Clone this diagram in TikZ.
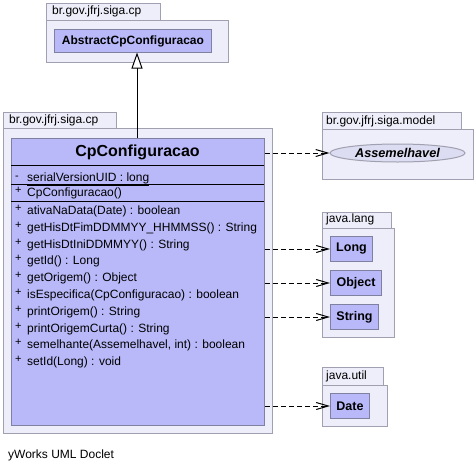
\documentclass[tikz,border=0pt]{standalone}
\usepackage{fontspec}
\setmainfont{Liberation Sans}
\usetikzlibrary{arrows.meta,shapes.geometric}
\definecolor{pkgfill}{RGB}{238,238,250}
\definecolor{pkgline}{RGB}{160,160,176}
\definecolor{clsfill}{RGB}{185,185,250}
\definecolor{clsline}{RGB}{128,128,160}
\definecolor{ellfill}{RGB}{220,220,242}
\tikzset{
  pkgbox/.style={draw=pkgline, fill=pkgfill, line width=1pt, inner sep=0pt, anchor=north west},
  clsbox/.style={draw=clsline, fill=clsfill, line width=1pt, inner sep=0pt, anchor=north west},
  pkgtext/.style={inner sep=0pt, anchor=west, font=\fontsize{12pt}{14pt}\selectfont},
  memtext/.style={inner sep=0pt, anchor=base west, font=\fontsize{12pt}{14pt}\selectfont},
  vis/.style={inner sep=0pt, anchor=base west, font=\fontsize{11pt}{14pt}\selectfont},
  clsname/.style={font=\fontsize{12.5pt}{14pt}\selectfont\bfseries},
  dep/.style={dashed, dash pattern=on 5pt off 3pt, line width=1pt, -{Straight Barb[length=12pt,width=7pt,line width=1pt]}},
  gen/.style={line width=1pt, -{Triangle[open,length=16pt,width=11pt,fill=white,line width=1pt]}},
}
\begin{document}
\begin{tikzpicture}[x=1pt,y=-1pt]
\useasboundingbox (0,0) rectangle (476,471);
% top package
\node[pkgbox, minimum width=114pt, minimum height=17pt] (tabA) at (46,3) {};
\node[pkgbox, minimum width=182pt, minimum height=42pt] (pkgA) at (46,20) {};
\node[pkgtext] (tabAt) at (52,11.5) {br.gov.jfrj.siga.cp};
\node[clsbox, minimum width=157pt, minimum height=23pt, font=\fontsize{12pt}{14pt}\selectfont\bfseries] (abs) at (54,29) {AbstractCpConfiguracao};
% main package
\node[pkgbox, minimum width=113pt, minimum height=16pt] (tabB) at (3,112) {};
\node[pkgbox, minimum width=269pt, minimum height=305pt] (pkgB) at (3,128) {};
\node[pkgtext] (tabBt) at (9,120) {br.gov.jfrj.siga.cp};
\node[clsbox, minimum width=253pt, minimum height=287pt] (cp) at (11,138) {};
\node[inner sep=0pt, font=\fontsize{16pt}{18pt}\selectfont\bfseries] (cpname) at (137.5,152) {CpConfiguracao};
\coordinate (l1a) at (11,165); \coordinate (l1b) at (264,165);
\coordinate (l2a) at (11,184); \coordinate (l2b) at (264,184);
\coordinate (l3a) at (11,201); \coordinate (l3b) at (264,201);
\draw[line width=1pt] (l1a) -- (l1b);
\draw[line width=1pt] (l2a) -- (l2b);
\draw[line width=1pt] (l3a) -- (l3b);
\node[vis] (v0) at (15,179) {-};
\node[memtext] (m0) at (27,181) {\underline{serialVersionUID : long}};
\node[vis] (v1) at (15,193.5) {+};
\node[memtext] (m1) at (27,196.5) {CpConfiguracao()};
\foreach \i/\t in {0/{ativaNaData(Date) : boolean},
                   1/{getHisDtFimDDMMYY\_HHMMSS() : String},
                   2/{getHisDtIniDDMMYY() : String},
                   3/{getId() : Long},
                   4/{getOrigem() : Object},
                   5/{isEspecifica(CpConfiguracao) : boolean},
                   6/{printOrigem() : String},
                   7/{printOrigemCurta() : String},
                   8/{semelhante(Assemelhavel, int) : boolean},
                   9/{setId(Long) : void}}{
  \node[vis] (vm\i) at (15,211.5+16.8*\i) {+};
  \node[memtext] (mm\i) at (27,214.5+16.8*\i) {\t};
}
% model package
\node[pkgbox, minimum width=139pt, minimum height=17pt] (tabC) at (322,112) {};
\node[pkgbox, minimum width=151pt, minimum height=50pt] (pkgC) at (322,129) {};
\node[pkgtext] (tabCt) at (326,121) {br.gov.jfrj.siga.model};
\node[ellipse, draw=pkgline, fill=ellfill, line width=1pt, inner sep=0pt, minimum width=135pt, minimum height=18pt, font=\fontsize{12.7pt}{14pt}\selectfont\bfseries\itshape] (ass) at (397.5,153) {Assemelhavel};
% java.lang
\node[pkgbox, minimum width=69pt, minimum height=16pt] (tabD) at (322,212) {};
\node[pkgbox, minimum width=72pt, minimum height=109pt] (pkgD) at (322,228) {};
\node[pkgtext] (tabDt) at (326,219) {java.lang};
\node[clsbox, minimum width=42pt, minimum height=25pt, clsname] (long) at (330,236) {Long};
\node[clsbox, minimum width=51pt, minimum height=25pt, clsname] (object) at (330,270) {Object};
\node[clsbox, minimum width=48pt, minimum height=25pt, clsname] (string) at (330,304) {String};
% java.util
\node[pkgbox, minimum width=61pt, minimum height=18pt] (tabE) at (322,367) {};
\node[pkgbox, minimum width=65pt, minimum height=41pt] (pkgE) at (322,385) {};
\node[pkgtext] (tabEt) at (326,376) {java.util};
\node[clsbox, minimum width=39pt, minimum height=25pt, clsname] (date) at (330,393) {Date};
% connectors
\coordinate (cpTop) at (137,138);
\coordinate (absBot) at (137,52.5);
\draw[gen] (cpTop) -- (absBot);
\draw[dep] (cp.east |- ass.west) -- (ass.west);
\draw[dep] (cp.east |- long.west) -- (long.west);
\draw[dep] (cp.east |- object.west) -- (object.west);
\draw[dep] (cp.east |- string.west) -- (string.west);
\draw[dep] (cp.east |- date.west) -- (date.west);
% footer
\node[pkgtext] (foot) at (8,455) {yWorks UML Doclet};
\end{tikzpicture}
\end{document}
